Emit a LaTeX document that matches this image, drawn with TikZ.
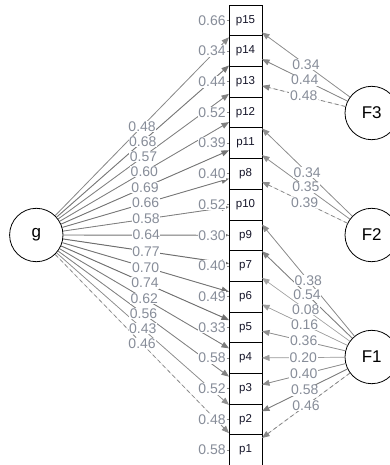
\documentclass[tikz,border=0pt]{standalone}
\usepackage{fontspec}
\setmainfont{Liberation Sans}
\usetikzlibrary{arrows.meta,calc}
\definecolor{labgray}{RGB}{135,141,153}
\definecolor{itemtxt}{RGB}{20,20,40}
\begin{document}
\begin{tikzpicture}[x=1pt,y=-1pt,
  item/.style={draw=black, line width=0.8pt, fill=white, minimum width=33pt,
    minimum height=30.7pt, inner sep=0pt, font=\fontsize{11.5}{13}\selectfont, text=itemtxt},
  latent/.style={circle, draw=black, line width=0.8pt, fill=white, minimum size=53.4pt,
    inner sep=0pt, font=\fontsize{17}{19}\selectfont},
  load/.style={-{Triangle[length=7.5pt,width=6pt]}},
  fixedload/.style={load, dash pattern=on 4pt off 3pt},
  est/.style={fill=white, inner sep=0.6pt, text=labgray, font=\fontsize{14}{16}\selectfont},
  resid/.style={fill=white, inner sep=0.8pt, text=labgray, font=\fontsize{14}{16}\selectfont},
  residline/.style={draw=black!45, line width=0.8pt}]
\useasboundingbox (0,0) rectangle (389,465);

% observed indicators, stacked top to bottom (centres at x = 245.5)
\foreach \n [count=\i from 0] in {p15,p14,p13,p12,p11,p8,p10,p9,p7,p6,p5,p4,p3,p2,p1}
  \node[item] (\n) at (245.5, 20.35+30.7*\i) {\n};

% latent factors
\node[latent] (g)  at (36.3,235) {g};
\node[latent] (F3) at (371.7,113) {F3};
\node[latent] (F2) at (371.7,235) {F2};
\node[latent] (F1) at (371.7,357) {F1};

% general factor loadings: arrows stop on the left side of the column (x = 229)
\foreach \n/\v/\s [count=\i] in {p15/0.48/load,p14/0.68/load,p13/0.57/load,p12/0.60/load,
    p11/0.69/load,p8/0.66/load,p10/0.58/load,p9/0.64/load,p7/0.77/load,p6/0.70/load,
    p5/0.74/load,p4/0.62/load,p3/0.56/load,p2/0.43/load,p1/0.46/fixedload}{
  \pgfmathtruncatemacro\sh{28+38*\v}
  \pgfmathsetmacro\lw{0.5+0.6*\v}
  \coordinate (ge\i) at ($(g)!0.921128!(\n)$);
  \draw[\s, draw=black!\sh, fill=black!\sh, line width=\lw pt] (g) -- (ge\i) coordinate[midway] (gm\i);
}

% specific factor loadings: arrows stop on the right side of the column (x = 262)
\foreach \f/\n/\v/\s [count=\i] in {F3/p15/0.34/load,F3/p14/0.44/load,F3/p13/0.48/fixedload,
    F2/p12/0.34/load,F2/p11/0.35/load,F2/p8/0.39/fixedload,
    F1/p10/0.38/load,F1/p9/0.54/load,F1/p7/0.08/load,F1/p6/0.16/load,F1/p5/0.36/load,
    F1/p4/0.20/load,F1/p3/0.40/load,F1/p2/0.58/load,F1/p1/0.46/fixedload}{
  \pgfmathtruncatemacro\sh{34+30*\v}
  \pgfmathsetmacro\lw{0.6+0.5*\v}
  \coordinate (se\i) at ($(\f)!0.869255!(\n)$);
  \draw[\s, draw=black!\sh, fill=black!\sh, line width=\lw pt] (\f) -- (se\i) coordinate[midway] (sm\i);
}

% loading estimates, set over the lines
\foreach \v [count=\i] in {0.48,0.68,0.57,0.60,0.69,0.66,0.58,0.64,0.77,0.70,0.74,0.62,0.56,0.43,0.46}
  \node[est] at (gm\i) {\v};
\foreach \v [count=\i] in {0.34,0.44,0.48,0.34,0.35,0.39,0.38,0.54,0.08,0.16,0.36,0.20,0.40,0.58,0.46}
  \node[est] at (sm\i) {\v};

% residual variances
\foreach \n/\v [count=\i from 0] in {p15/0.66,p14/0.34,p13/0.44,p12/0.52,p11/0.39,p8/0.40,
    p10/0.52,p9/0.30,p7/0.40,p6/0.49,p5/0.33,p4/0.58,p3/0.52,p2/0.48,p1/0.58}{
  \node[resid] (r\n) at (212, 20.35+30.7*\i) {\v};
  \draw[residline] (r\n) -- (\n);
}
\end{tikzpicture}
\end{document}
